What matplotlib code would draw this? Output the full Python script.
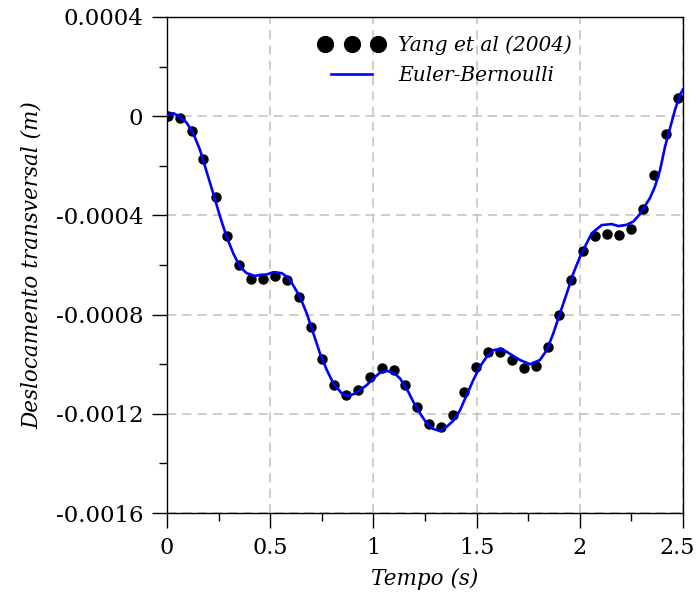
import matplotlib
matplotlib.use("Agg")
import matplotlib.pyplot as plt
from matplotlib.ticker import MultipleLocator, FuncFormatter
from matplotlib.legend_handler import HandlerLine2D
from matplotlib.transforms import ScaledTranslation

# Yang et al (2004) reference points (time in s, displacement in 1e-4 m)
yang_t = [0.005, 0.063, 0.121, 0.176, 0.236, 0.292, 0.350, 0.407, 0.465, 0.523,
          0.580, 0.638, 0.698, 0.752, 0.809, 0.867, 0.925, 0.982, 1.040, 1.098,
          1.155, 1.211, 1.269, 1.327, 1.384, 1.440, 1.497, 1.557, 1.613, 1.672,
          1.730, 1.788, 1.844, 1.901, 1.959, 2.017, 2.075, 2.132, 2.190, 2.247,
          2.305, 2.361, 2.419, 2.477]
yang_u = [0.00, -0.06, -0.61, -1.73, -3.27, -4.83, -6.00, -6.55, -6.55, -6.43,
          -6.60, -7.30, -8.49, -9.80, -10.84, -11.24, -11.05, -10.52, -10.14, -10.22,
          -10.84, -11.71, -12.40, -12.54, -12.05, -11.11, -10.13, -9.52, -9.52, -9.84,
          -10.17, -10.06, -9.31, -8.03, -6.59, -5.45, -4.84, -4.74, -4.78, -4.56,
          -3.75, -2.37, -0.73, 0.75]

# Euler-Bernoulli solution
eb_t = [0.0, 0.031, 0.063, 0.095, 0.127, 0.160, 0.192, 0.224, 0.257, 0.289,
        0.321, 0.354, 0.386, 0.426, 0.451, 0.483, 0.515, 0.556, 0.580, 0.596,
        0.644, 0.677, 0.709, 0.741, 0.774, 0.806, 0.846, 0.871, 0.903, 0.935,
        0.968, 1.000, 1.032, 1.064, 1.097, 1.129, 1.169, 1.193, 1.226, 1.258,
        1.290, 1.323, 1.355, 1.387, 1.420, 1.452, 1.484, 1.516, 1.549, 1.581,
        1.622, 1.646, 1.678, 1.710, 1.759, 1.807, 1.840, 1.872, 1.904, 1.937,
        1.969, 2.001, 2.033, 2.058, 2.106, 2.155, 2.187, 2.227, 2.259, 2.292,
        2.324, 2.340, 2.364, 2.389, 2.413, 2.437, 2.461, 2.485, 2.500]
eb_u = [0.03, 0.12, -0.02, -0.26, -0.69, -1.36, -2.24, -3.11, -4.05, -4.86,
        -5.53, -6.07, -6.33, -6.44, -6.40, -6.38, -6.29, -6.33, -6.47, -6.60,
        -7.28, -7.95, -8.75, -9.56, -10.23, -10.77, -11.17, -11.27, -11.21, -11.04,
        -10.84, -10.57, -10.34, -10.27, -10.34, -10.57, -11.11, -11.51, -11.98, -12.38,
        -12.61, -12.69, -12.52, -12.28, -11.85, -11.24, -10.64, -10.10, -9.70, -9.43,
        -9.39, -9.50, -9.67, -9.83, -10.00, -9.83, -9.43, -8.75, -7.95, -7.14,
        -6.33, -5.67, -5.13, -4.72, -4.39, -4.35, -4.43, -4.38, -4.25, -3.94,
        -3.51, -3.30, -2.84, -2.17, -1.23, -0.49, 0.25, 0.85, 1.08]

scale = 1e-4
yang_u = [v * scale for v in yang_u]
eb_u = [v * scale for v in eb_u]

plt.rcParams['font.family'] = ['DejaVu Serif']

fig = plt.figure(figsize=(6.99, 5.98), dpi=100)
ax = fig.add_axes([0.2389, 0.1421, 0.7382, 0.8295])

pts, = ax.plot(yang_t, yang_u, 'o', color='black', markersize=6.5, linestyle='none',
               label='Yang et al (2004)', zorder=3)
ax.plot(eb_t, eb_u, '-', color='#0000ff', linewidth=1.9,
        label='Euler-Bernoulli', zorder=4)

ax.set_xlim(0, 2.5)
ax.set_ylim(-0.0016, 0.0004)
ax.xaxis.set_major_locator(MultipleLocator(0.5))
ax.xaxis.set_minor_locator(MultipleLocator(0.25))
ax.yaxis.set_major_locator(MultipleLocator(0.0004))
ax.yaxis.set_minor_locator(MultipleLocator(0.0002))

ax.xaxis.set_major_formatter(FuncFormatter(lambda v, p: ('%g' % round(v, 2))))
ax.yaxis.set_major_formatter(FuncFormatter(
    lambda v, p: '0' if abs(v) < 1e-9 else ('%.4f' % v)))

ax.tick_params(which='major', direction='out', length=11, width=1,
               labelsize=16.5, pad=6)
ax.tick_params(axis='x', which='major', labelsize=16)
ax.tick_params(which='minor', direction='out', length=6, width=1)

ax.grid(True, which='major', color='#c0c0c0', linestyle=(0, (6, 4)),
        linewidth=1.1)
ax.set_axisbelow(True)
for s in ax.spines.values():
    s.set_linewidth(1.0)

ax.set_xlabel('Tempo (s)', fontsize=15.5, style='italic', labelpad=7)
ax.set_ylabel('Deslocamento transversal (m)', fontsize=15.5, style='italic',
              labelpad=9)

leg = ax.legend(loc='upper left', bbox_to_anchor=(0.307, 0.962), frameon=False,
                numpoints=3, markerscale=1.75, handlelength=2.6,
                handletextpad=1.0, labelspacing=0.5, borderpad=0,
                borderaxespad=0, prop={'size': 14.5, 'style': 'italic'},
                handler_map={pts: HandlerLine2D(marker_pad=0)})

# keep the "2.5" tick label inside the figure
fig.canvas.draw()
for tk in ax.xaxis.get_major_ticks():
    if tk.label1.get_text() == '2.5':
        tk.label1.set_transform(tk.label1.get_transform() +
                                ScaledTranslation(-4 / 72, 0, fig.dpi_scale_trans))

fig.savefig('out.png', dpi=100)
